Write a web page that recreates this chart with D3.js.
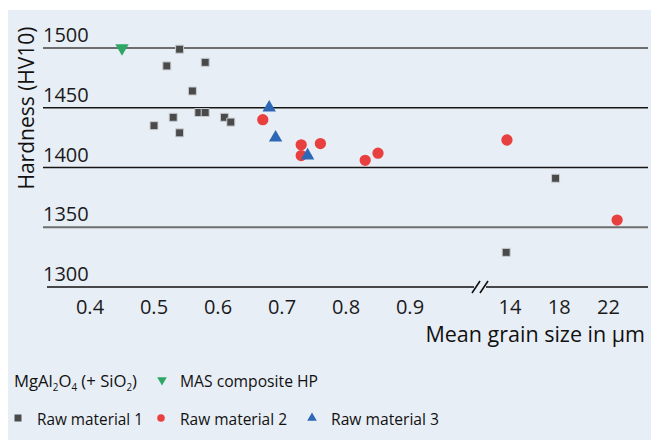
<!DOCTYPE html>
<html><head><meta charset="utf-8">
<script src="https://cdn.jsdelivr.net/npm/d3@7"></script>
<style>
html,body{margin:0;padding:0;background:#fff;}
svg{display:block;font-family:"Open Sans",sans-serif;}
</style></head>
<body>
<script>
// ---- data ----
const yTicks = [1300, 1350, 1400, 1450, 1500];
const xTicks = [0.4, 0.5, 0.6, 0.7, 0.8, 0.9, 14, 18, 22];
const xTickLabels = ["0.4","0.5","0.6","0.7","0.8","0.9","14","18","22"];

const masX = [0.45];
const masY = [1500];

const raw1X = [0.54, 0.52, 0.58, 0.56, 0.57, 0.58, 0.53, 0.50, 0.54, 0.61, 0.62, 13.5, 17.7];
const raw1Y = [1499, 1485, 1488, 1464, 1446, 1446, 1442, 1435, 1429, 1442, 1438, 1329, 1391];

const raw2X = [0.67, 0.73, 0.73, 0.76, 0.83, 0.85, 13.6, 22.7];
const raw2Y = [1440, 1419, 1410, 1420, 1406, 1412, 1423, 1356];

const raw3X = [0.68, 0.69, 0.74];
const raw3Y = [1450, 1425, 1410];

const colors = {mas:"#2ea765", raw1:"#4a4a4a", raw2:"#e8403f", raw3:"#2c68b6"};

// ---- chart ----
const W = 651, H = 440;
const svg = d3.select("body").append("svg").attr("width", W).attr("height", H);
svg.append("rect").attr("x", 8).attr("y", 10).attr("width", W - 8).attr("height", H - 10).attr("fill", "#e8eef5");

// broken x scale (polylinear)
const x = d3.scaleLinear().domain([0.4, 0.9, 14, 22]).range([90, 410, 510, 608.5]);
const y = d3.scaleLinear().domain([1300, 1500]).range([287, 48]);

const gridL = 43, gridR = 648;

// grid lines (except baseline)
yTicks.filter(v => v !== 1300).forEach(v => {
  const grey = (v === 1500 || v === 1350);
  svg.append("line").attr("x1", gridL).attr("x2", gridR)
    .attr("y1", y(v)).attr("y2", y(v))
    .attr("stroke", grey ? "#6e6e6e" : "#151515").attr("stroke-width", grey ? 2 : 1.4);
});
// y tick labels
svg.selectAll("text.ytick").data(yTicks).join("text").attr("class", "ytick")
  .attr("x", gridL).attr("y", d => y(d) - 6)
  .attr("font-size", 20).attr("fill", "#1a1a1a").text(d => d);

// x axis baseline with break
const y0 = y(1300);
const breakX = 480;
svg.append("line").attr("x1", 47).attr("x2", breakX - 6).attr("y1", y0).attr("y2", y0).attr("stroke", "#111").attr("stroke-width", 1.6);
svg.append("line").attr("x1", breakX + 6).attr("x2", gridR).attr("y1", y0).attr("y2", y0).attr("stroke", "#111").attr("stroke-width", 1.6);
[-4, 4].forEach(o => {
  svg.append("line").attr("x1", breakX + o - 4).attr("y1", y0 + 6)
    .attr("x2", breakX + o + 4).attr("y2", y0 - 6)
    .attr("stroke", "#111").attr("stroke-width", 1.6);
});

// x tick labels
svg.selectAll("text.xtick").data(xTicks).join("text").attr("class", "xtick")
  .attr("x", d => x(d)).attr("y", 314).attr("text-anchor", "middle")
  .attr("font-size", 20).attr("fill", "#1a1a1a").text((d, i) => xTickLabels[i]);

// axis titles
svg.append("text").attr("x", 645).attr("y", 342).attr("text-anchor", "end")
  .attr("font-size", 21.5).attr("fill", "#111").text("Mean grain size in µm");
svg.append("text").attr("transform", "translate(34,108) rotate(-90)").attr("text-anchor", "middle")
  .attr("font-size", 21).attr("fill", "#111").text("Hardness (HV10)");

// markers
const sq = d3.symbol(d3.symbolSquare, 64);
const circ = d3.symbol(d3.symbolCircle, 100);
const tri = d3.symbol(d3.symbolTriangle, 78);

function plot(xs, ys, gen, color, rot, stroke) {
  svg.append("g").selectAll("path").data(xs).join("path")
    .attr("d", gen)
    .attr("transform", (d, i) => `translate(${x(d)},${y(ys[i])}) rotate(${rot})`)
    .attr("fill", color)
    .attr("stroke", stroke || "none").attr("stroke-width", stroke ? 1 : 0);
}
plot(raw1X, raw1Y, sq, colors.raw1, 0, "#c9cdd2");
plot(raw2X, raw2Y, circ, colors.raw2, 0);
plot(raw3X, raw3Y, tri, colors.raw3, 0);
plot(masX, masY, tri, colors.mas, 180);

// legend
const lg = svg.append("g").attr("font-size", 17).attr("fill", "#111");
const t1 = lg.append("text").attr("x", 14).attr("y", 387).attr("textLength", 123).attr("lengthAdjust", "spacingAndGlyphs");
t1.append("tspan").text("MgAl");
t1.append("tspan").attr("font-size", 10).attr("dy", 4).text("2");
t1.append("tspan").attr("dy", -4).text("O");
t1.append("tspan").attr("font-size", 10).attr("dy", 4).text("4");
t1.append("tspan").attr("dy", -4).text(" (+ SiO");
t1.append("tspan").attr("font-size", 10).attr("dy", 4).text("2");
t1.append("tspan").attr("dy", -4).text(")");

function legText(xp, yp, txt, len) {
  lg.append("text").attr("x", xp).attr("y", yp)
    .attr("textLength", len).attr("lengthAdjust", "spacingAndGlyphs").text(txt);
}

lg.append("path").attr("d", d3.symbol(d3.symbolTriangle, 40)())
  .attr("transform", "translate(162,380) rotate(180)").attr("fill", colors.mas);
legText(180, 387, "MAS composite HP", 138);

lg.append("path").attr("d", d3.symbol(d3.symbolSquare, 49)())
  .attr("transform", "translate(18,418)").attr("fill", colors.raw1);
legText(37, 425, "Raw material 1", 106);
lg.append("path").attr("d", d3.symbol(d3.symbolCircle, 45)())
  .attr("transform", "translate(161,418)").attr("fill", colors.raw2);
legText(180, 425, "Raw material 2", 107);
lg.append("path").attr("d", d3.symbol(d3.symbolTriangle, 40)())
  .attr("transform", "translate(312,418)").attr("fill", colors.raw3);
legText(331, 425, "Raw material 3", 108);
</script>
</body></html>
